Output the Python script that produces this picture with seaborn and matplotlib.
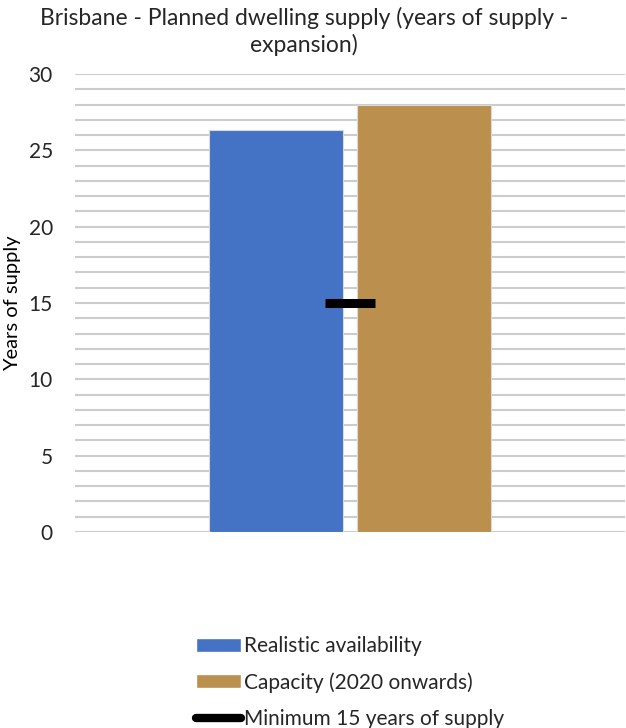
import matplotlib
matplotlib.use("Agg")
import matplotlib.pyplot as plt
import seaborn as sns
import pandas as pd
from matplotlib.ticker import MultipleLocator
from matplotlib.lines import Line2D

sns.set_theme(style="white")
plt.rcParams["font.family"] = ["Lato", "DejaVu Sans"]

# Data
region = ["Brisbane"]
series = ["Realistic availability", "Capacity (2020 onwards)"]
years_of_supply = [26.3, 28.0]
minimum_years = 15
minimum_label = "Minimum 15 years of supply"
colors = ["#4472C4", "#BB8F4E"]

df = pd.DataFrame({
    "region": region * len(series),
    "series": series,
    "years": years_of_supply,
})

fig = plt.figure(figsize=(6.26, 7.28), dpi=100)
ax = fig.add_axes([75 / 626, 1 - 532 / 728, 550 / 626, 458 / 728])

sns.barplot(data=df, x="region", y="years", hue="series", palette=colors,
            width=0.536, gap=0.09, ax=ax, legend=False, saturation=1,
            edgecolor="#d9d9d9", linewidth=0.8, zorder=3)

# Minimum requirement marker
sns.scatterplot(x=[0], y=[minimum_years], marker="_", s=36 ** 2,
                color="black", linewidth=6.5, ax=ax, zorder=4, legend=False)

ax.set_ylim(0, 30)
ax.set_xlim(-0.5, 0.5)
ax.yaxis.set_major_locator(MultipleLocator(5))
ax.yaxis.set_minor_locator(MultipleLocator(1))
ax.grid(axis="y", which="both", color="#cccccc", linewidth=1.5, zorder=0)
ax.set_axisbelow(True)
for s in ax.spines.values():
    s.set_visible(False)
ax.set_xticks([])
ax.set_xlabel("")
ax.tick_params(axis="y", which="both", length=0, pad=16, labelsize=15,
               labelcolor="#262626")
ax.set_ylabel("Years of supply", fontsize=14.5, color="black")
ax.yaxis.set_label_coords(-0.098, 0.5)

fig.text(0.486, 1 - 7 / 728,
         "Brisbane - Planned dwelling supply (years of supply -\nexpansion)",
         ha="center", va="top", fontsize=16.5, color="#262626",
         linespacing=1.25)

handles = [
    plt.Rectangle((0, 0), 1, 1, facecolor=colors[0]),
    plt.Rectangle((0, 0), 1, 1, facecolor=colors[1]),
    Line2D([0], [0], color="black", linewidth=6, solid_capstyle="round"),
]
labels = series + [minimum_label]
fig.legend(handles, labels, loc="upper left",
           bbox_to_anchor=(196 / 626, 1 - 636 / 728), frameon=False,
           fontsize=15, handlelength=2.15, handleheight=0.65,
           handletextpad=0.15, labelspacing=0.77, labelcolor="#262626",
           borderaxespad=0, borderpad=0)

fig.savefig("out.png", dpi=100)
